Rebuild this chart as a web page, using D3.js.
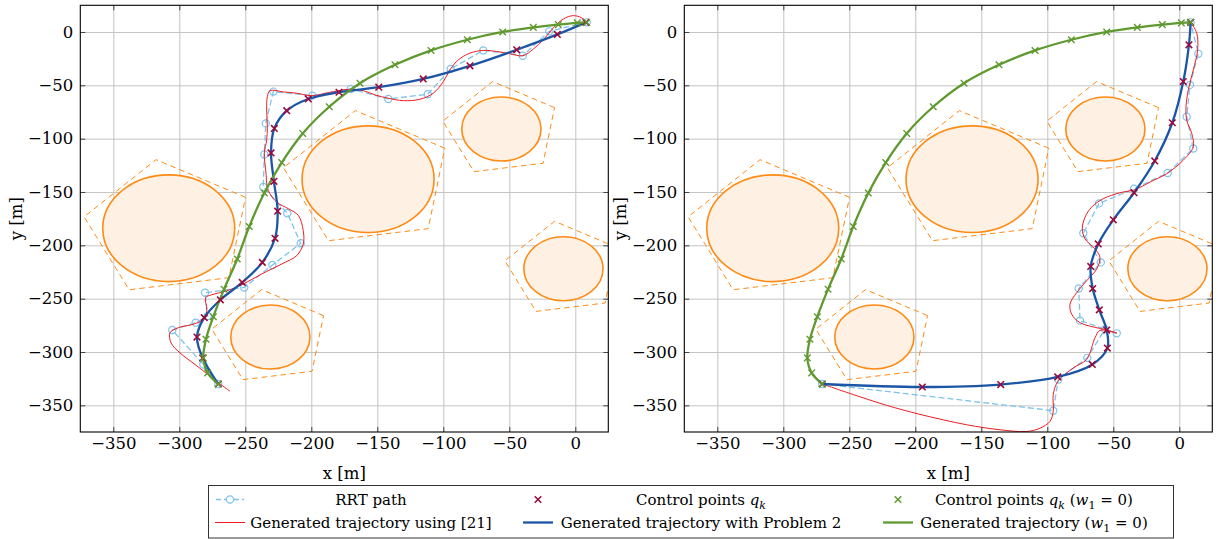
<!DOCTYPE html>
<html><head><meta charset="utf-8">
<script src="https://cdn.jsdelivr.net/npm/d3@7"></script>
<style>
body{margin:0;background:#fff}
</style>
</head><body>
<svg id="c" width="1221" height="539" font-family="DejaVu Serif"></svg>
<script>
// ---------- data ----------
const xTicks = [-350, -300, -250, -200, -150, -100, -50, 0];
const yTicks = [0, -50, -100, -150, -200, -250, -300, -350];
const domainX = [-375, 25];
const domainY = [-375, 25];

// obstacles (circle centre, radius, surrounding pentagon circumradius)
const obsX = [-308, -157, -56, -9, -231];
const obsY = [-184, -138, -91, -222, -286];
const obsR = [50, 50, 30, 30, 30];
const polyR = [65, 65, 45, 45, 45];
const polyRotDeg = 26.5;

// left panel
const rrtL = [[8.6,9.0],[-19.7,0.6],[-39.8,-22.3],[-69.7,-17.3],[-94.4,-34.6],[-111.8,-58.4],[-141.7,-62.8],[-170.2,-53.4],[-199.2,-59.7],[-228.8,-55.9],[-234.5,-85.7],[-235.6,-114.9],[-236.4,-145.4],[-218.2,-169.9],[-208.0,-198.1],[-229.5,-218.5],[-250.8,-239.5],[-280.5,-244.5],[-278.5,-266.2],[-287.6,-272.5],[-305.3,-279.4],[-281.8,-311.7],[-270.5,-330]];
const cpL = [[8.1,9.0],[-13.6,-2.3],[-44.4,-16.7],[-79.8,-31.7],[-115.2,-44.0],[-148.9,-51.8],[-179.0,-56.5],[-202.3,-62.8],[-218.6,-73.8],[-228.0,-90.4],[-230.5,-113.4],[-228.3,-140.0],[-225.5,-168.0],[-227.5,-193.4],[-237.1,-216.0],[-252.3,-234.8],[-268.9,-251.1],[-281.1,-267.8],[-286.6,-286.0],[-282.3,-305.7],[-270.5,-330]];
const redL = [[-261.6,-336.8],[-269.2,-329.9],[-276.7,-322.7],[-288.1,-311.7],[-299.5,-300.8],[-306.3,-291.3],[-307.0,-281.9],[-300.8,-277.2],[-289.4,-274.0],[-280.5,-268.4],[-279.2,-259.9],[-280.0,-249.0],[-275.5,-246.4],[-264.1,-242.7],[-251.5,-236.3],[-237.6,-226.9],[-222.4,-217.5],[-211.1,-209.7],[-206.1,-198.7],[-206.1,-186.2],[-209.8,-172.0],[-217.4,-165.7],[-226.2,-159.5],[-232.6,-148.5],[-234.5,-129.7],[-235.6,-113.9],[-233.8,-101.4],[-233.3,-88.9],[-233.8,-73.2],[-233.3,-60.6],[-231.3,-55.0],[-221.2,-56.2],[-211.1,-57.4],[-199.7,-59.7],[-183.3,-55.9],[-170.7,-53.7],[-160.6,-55.0],[-151.7,-59.0],[-141.7,-62.1],[-130.3,-64.4],[-117.7,-63.1],[-107.6,-57.4],[-100.0,-46.5],[-94.4,-34.6],[-88.6,-26.1],[-79.8,-19.8],[-69.7,-17.3],[-59.5,-18.3],[-49.5,-20.4],[-39.8,-22.3],[-31.8,-16.0],[-24.2,-7.3],[-16.7,3.8],[-9.1,12.2],[-1.5,15.3],[4.8,13.2],[8.6,9.0]];

// right panel
const rrtR = [[-270.5,-330],[-95.5,-355.0],[-91.7,-325.8],[-69.7,-305.5],[-56.3,-278.7],[-47.4,-282.5],[-75.2,-270.6],[-76.2,-240.5],[-59.5,-216.0],[-72.7,-188.7],[-60.8,-160.7],[-34.3,-146.9],[-8.8,-132.2],[10.6,-109.2],[5.6,-79.5],[8.1,-49.6],[14.4,-20.4],[8.6,9.0]];
const cpR = [[-270.5,-330],[-194.7,-332.8],[-135.3,-330.5],[-92.1,-323.4],[-65.9,-311.7],[-54.5,-296.3],[-55.0,-279.4],[-60.6,-260.5],[-65.6,-240.5],[-67.1,-219.8],[-61.4,-198.7],[-50.0,-176.1],[-34.3,-150.7],[-18.6,-120.9],[-5.3,-85.1],[3.0,-46.5],[7.3,-12.0],[8.6,9.0]];
const redR = [[-270.5,-330],[-247.0,-339.9],[-221.7,-350.0],[-196.4,-358.5],[-161.1,-368.2],[-135.8,-372.9],[-115.6,-374.5],[-105.5,-371.4],[-98.0,-365.1],[-95.5,-355.6],[-95.5,-339.9],[-91.9,-327.4],[-80.3,-314.9],[-70.2,-307.0],[-63.8,-286.6],[-60.1,-279.7],[-47.4,-282.2],[-57.6,-278.7],[-75.2,-272.5],[-81.5,-264.6],[-82.8,-255.2],[-77.7,-244.3],[-70.2,-233.2],[-62.6,-222.2],[-60.1,-211.3],[-63.9,-203.4],[-71.4,-194.0],[-73.5,-184.6],[-71.4,-173.6],[-66.4,-164.2],[-57.6,-156.3],[-44.9,-150.7],[-33.6,-147.8],[-22.2,-140.7],[-9.5,-132.8],[3.0,-120.2],[10.6,-107.7],[9.4,-95.1],[5.6,-82.6],[5.1,-70.1],[6.8,-54.3],[10.6,-35.5],[13.9,-16.7],[13.2,-0.9],[8.6,9.0]];

// trajectory with w1 = 0 (same in both panels)
const cpG = [[8.6,9.0],[1.5,8.5],[-12.9,6.9],[-31.8,4.3],[-55.0,0.0],[-81.8,-7.3],[-109.3,-17.3],[-136.6,-30.8],[-163.1,-48.0],[-186.4,-70.1],[-206.5,-95.1],[-222.4,-122.4],[-235.6,-151.0],[-247.0,-182.4],[-256.1,-212.8],[-266.1,-241.1],[-274.2,-266.9],[-279.8,-288.1],[-281.8,-305.5],[-278.5,-319.6],[-270.5,-330]];

const legendItems = [
  {key:"rrt", parts:[["RRT path"]]},
  {key:"cp", parts:[["Control points "],["q","i"],["k","isub"]]},
  {key:"cpG", parts:[["Control points "],["q","i"],["k","isub"],[" ("],["w","i"],["1","sub"],[" = 0)"]]},
  {key:"red", parts:[["Generated trajectory using [21]"]]},
  {key:"blue", parts:[["Generated trajectory with Problem 2"]]},
  {key:"green", parts:[["Generated trajectory ("],["w","i"],["1","sub"],[" = 0)"]]}
];

// ---------- styles ----------
const C = {
  rrt:"#7dc3ea", red:"#ee1d23", blue:"#1b55a6", green:"#5f992f",
  cp:"#9a0b3b", cpG:"#5f992f", orange:"#ff8a14", fill:"#fef1e4", grid:"#c4c4c4"
};
const FONT = "DejaVu Serif";
const FS = 15, TFS = 16.5;

const svg = d3.select("#c");
const PT = 5.3, PB = 432, PW = 528;
const panelLefts = [80.3, 684.3];
const panelData = [{rrt:rrtL, cp:cpL, red:redL}, {rrt:rrtR, cp:cpR, red:redR}];
const xMark = d3.symbol().type(d3.symbolX).size(30);

panelLefts.forEach((L, i) => {
  const x = d3.scaleLinear().domain(domainX).range([L, L + PW]);
  const y = d3.scaleLinear().domain(domainY).range([PB, PT]);
  const d = panelData[i];
  const g = svg.append("g");

  svg.append("defs").append("clipPath").attr("id", "clip" + i)
    .append("rect").attr("x", L).attr("y", PT).attr("width", PW).attr("height", PB - PT);

  g.append("g").attr("transform", `translate(0,${PB})`)
    .call(d3.axisBottom(x).tickValues(xTicks).tickSize(-(PB - PT)).tickFormat(""))
    .call(s => s.select(".domain").remove())
    .selectAll("line").attr("stroke", C.grid).attr("stroke-width", 1);
  g.append("g").attr("transform", `translate(${L},0)`)
    .call(d3.axisLeft(y).tickValues(yTicks).tickSize(-PW).tickFormat(""))
    .call(s => s.select(".domain").remove())
    .selectAll("line").attr("stroke", C.grid).attr("stroke-width", 1);

  const pg = g.append("g").attr("clip-path", `url(#clip${i})`);

  obsX.forEach((cx, k) => {
    const pts = d3.range(5).map(j => {
      const a = (polyRotDeg + 72 * j) * Math.PI / 180;
      return [x(cx + polyR[k] * Math.cos(a)), y(obsY[k] + polyR[k] * Math.sin(a))];
    });
    pg.append("polygon").attr("points", pts.map(p => p.join(",")).join(" "))
      .attr("fill", "none").attr("stroke", C.orange).attr("stroke-width", 1)
      .attr("stroke-dasharray", "5.5,4");
    pg.append("ellipse").attr("cx", x(cx)).attr("cy", y(obsY[k]))
      .attr("rx", x(obsR[k]) - x(0)).attr("ry", y(0) - y(obsR[k]))
      .attr("fill", C.fill).attr("stroke", C.orange).attr("stroke-width", 1.6);
  });

  const lin = d3.line().x(p => x(p[0])).y(p => y(p[1]));
  const smooth = d3.line().x(p => x(p[0])).y(p => y(p[1])).curve(d3.curveCatmullRom.alpha(0.5));

  pg.append("path").attr("d", lin(d.rrt)).attr("fill", "none")
    .attr("stroke", C.rrt).attr("stroke-width", 1.3).attr("stroke-dasharray", "6,3");
  pg.append("g").selectAll("circle").data(d.rrt).join("circle")
    .attr("cx", p => x(p[0])).attr("cy", p => y(p[1])).attr("r", 3.6)
    .attr("fill", "none").attr("stroke", C.rrt).attr("stroke-width", 1.2);

  pg.append("path").attr("d", smooth(d.red)).attr("fill", "none")
    .attr("stroke", C.red).attr("stroke-width", 1);
  pg.append("path").attr("d", smooth(d.cp)).attr("fill", "none")
    .attr("stroke", C.blue).attr("stroke-width", 2.3);
  pg.append("path").attr("d", smooth(cpG)).attr("fill", "none")
    .attr("stroke", C.green).attr("stroke-width", 2.3);

  pg.append("g").selectAll("path").data(d.cp).join("path")
    .attr("d", xMark).attr("transform", p => `translate(${x(p[0])},${y(p[1])})`)
    .attr("fill", "none").attr("stroke", C.cp).attr("stroke-width", 1.6);
  pg.append("g").selectAll("path").data(cpG).join("path")
    .attr("d", xMark).attr("transform", p => `translate(${x(p[0])},${y(p[1])})`)
    .attr("fill", "none").attr("stroke", C.cpG).attr("stroke-width", 1.4);

  const fmt = d3.format("d");
  const styleAx = s => { s.attr("font-family", FONT).attr("font-size", TFS); s.select(".domain").remove(); s.selectAll("line").attr("stroke", "#444"); s.selectAll("text").attr("fill", "#000"); };
  g.append("g").attr("transform", `translate(0,${PB})`)
    .call(d3.axisBottom(x).tickValues(xTicks).tickSizeInner(-5).tickSizeOuter(0).tickPadding(5).tickFormat(fmt)).call(styleAx);
  g.append("g").attr("transform", `translate(0,${PT})`)
    .call(d3.axisTop(x).tickValues(xTicks).tickSizeInner(-5).tickSizeOuter(0).tickFormat("")).call(styleAx);
  g.append("g").attr("transform", `translate(${L},0)`)
    .call(d3.axisLeft(y).tickValues(yTicks).tickSizeInner(-5).tickSizeOuter(0).tickPadding(7).tickFormat(fmt)).call(styleAx);
  g.append("g").attr("transform", `translate(${L + PW},0)`)
    .call(d3.axisRight(y).tickValues(yTicks).tickSizeInner(-5).tickSizeOuter(0).tickFormat("")).call(styleAx);

  g.append("rect").attr("x", L).attr("y", PT).attr("width", PW).attr("height", PB - PT)
    .attr("fill", "none").attr("stroke", "#000").attr("stroke-width", 1.1);

  g.append("text").attr("x", L + PW / 2).attr("y", 479).attr("text-anchor", "middle")
    .attr("font-family", FONT).attr("font-size", TFS).text("x [m]");
  g.append("text").attr("transform", `translate(${L - 58},${(PT + PB) / 2}) rotate(-90)`)
    .attr("text-anchor", "middle").attr("font-family", FONT).attr("font-size", TFS).text("y [m]");
});

const lg = svg.append("g");
lg.append("rect").attr("x", 208.5).attr("y", 485.5).attr("width", 965).attr("height", 52.5)
  .attr("fill", "#fff").attr("stroke", "#333").attr("stroke-width", 1);
const colMark = [230, 538, 898];
const colText = [371, 701, 1034];
const rowY = [499.5, 522.5];
legendItems.forEach((it, k) => {
  const c = k % 3, r = Math.floor(k / 3);
  const mx = colMark[c], my = rowY[r];
  const m = lg.append("g");
  if (it.key === "rrt") {
    m.append("line").attr("x1", mx - 14).attr("x2", mx + 14).attr("y1", my).attr("y2", my)
      .attr("stroke", C.rrt).attr("stroke-width", 1.3).attr("stroke-dasharray", "6,3").attr("stroke-dashoffset", 1);
    m.append("circle").attr("cx", mx).attr("cy", my).attr("r", 3.6).attr("fill", "#fff")
      .attr("stroke", C.rrt).attr("stroke-width", 1.2);
  } else if (it.key === "cp" || it.key === "cpG") {
    m.append("path").attr("d", xMark).attr("transform", `translate(${mx},${my})`)
      .attr("fill", "none").attr("stroke", C[it.key]).attr("stroke-width", 1.5);
  } else {
    m.append("line").attr("x1", mx - 15).attr("x2", mx + 15).attr("y1", my).attr("y2", my)
      .attr("stroke", C[it.key]).attr("stroke-width", it.key === "red" ? 1 : 2.3);
  }
  const t = lg.append("text").attr("x", colText[c]).attr("y", my + 5).attr("text-anchor", "middle")
    .attr("font-family", FONT).attr("font-size", FS);
  let shifted = false;
  it.parts.forEach(p => {
    const ts = t.append("tspan").text(p[0]);
    if (p[1] === "i" || p[1] === "isub") ts.attr("font-style", "italic");
    if (p[1] === "sub" || p[1] === "isub") { ts.attr("font-size", 11).attr("dy", 4); shifted = true; }
    else if (shifted) { ts.attr("dy", -4); shifted = false; }
  });
});
</script>
</body></html>
